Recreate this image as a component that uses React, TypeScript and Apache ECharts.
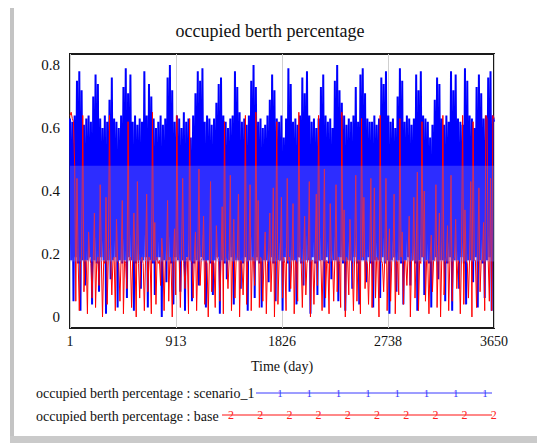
import React, { useEffect, useRef } from "react";
import * as echarts from "echarts";

const title = "occupied berth percentage";
const xName = "Time (day)";
const xTickLabels = [1, 913, 1826, 2738, 3650];
const yTickValues = [0, 0.2, 0.4, 0.6, 0.8];
const firstDay = 1;
const lastDay = 3650;
const legendNames = [
  "occupied berth percentage : scenario_1",
  "occupied berth percentage : base",
];

// occupied berth percentage : scenario_1 (sampled about every 10 days)
const scenario1 = [
  0.63,0.18,0.62,0.05,0.64,0.19,0.75,0.17,0.78,0.02,0.72,0.18,0.61,0.1,0.63,0.18,0.64,0.19,0.62,0.04,
  0.7,0.18,0.77,0.17,0.74,0.08,0.63,0.19,0.6,0.18,0.64,0.01,0.62,0.18,0.69,0.12,0.76,0.18,0.63,0.19,
  0.62,0.03,0.6,0.18,0.64,0.17,0.73,0.18,0.79,0.06,0.71,0.19,0.77,0.18,0.62,0.02,0.64,0.17,0.61,0.18,
  0.63,0.09,0.62,0.18,0.78,0.19,0.64,0.03,0.74,0.18,0.7,0.17,0.63,0.07,0.6,0.18,0.62,0.19,0.64,0.0,
  0.61,0.18,0.63,0.11,0.76,0.18,0.8,0.17,0.72,0.04,0.62,0.19,0.64,0.18,0.63,0.08,0.6,0.18,0.65,0.02,
  0.62,0.19,0.63,0.18,0.57,0.05,0.64,0.17,0.71,0.18,0.78,0.1,0.75,0.19,0.79,0.18,0.62,0.03,0.64,0.18,
  0.63,0.17,0.61,0.07,0.63,0.18,0.68,0.19,0.74,0.01,0.76,0.18,0.64,0.17,0.62,0.12,0.6,0.18,0.63,0.19,
  0.64,0.04,0.78,0.18,0.73,0.18,0.65,0.09,0.62,0.17,0.63,0.19,0.61,0.02,0.64,0.18,0.75,0.18,0.8,0.06,
  0.73,0.19,0.62,0.17,0.63,0.03,0.6,0.18,0.61,0.18,0.64,0.11,0.69,0.19,0.77,0.17,0.72,0.05,0.63,0.18,
  0.62,0.18,0.64,0.02,0.57,0.19,0.63,0.17,0.79,0.08,0.74,0.18,0.62,0.18,0.63,0.04,0.61,0.19,0.64,0.17,
  0.76,0.1,0.71,0.18,0.78,0.18,0.64,0.01,0.62,0.19,0.63,0.17,0.6,0.07,0.63,0.18,0.73,0.18,0.77,0.03,
  0.64,0.19,0.62,0.17,0.63,0.12,0.6,0.18,0.75,0.18,0.8,0.05,0.72,0.19,0.68,0.17,0.64,0.02,0.61,0.18,
  0.63,0.18,0.62,0.09,0.64,0.19,0.73,0.17,0.62,0.04,0.77,0.18,0.79,0.18,0.71,0.11,0.63,0.19,0.62,0.17,
  0.62,0.03,0.64,0.18,0.61,0.18,0.63,0.06,0.76,0.19,0.74,0.17,0.78,0.18,0.64,0.01,0.62,0.18,0.63,0.19,
  0.6,0.08,0.7,0.18,0.79,0.17,0.75,0.04,0.62,0.18,0.64,0.19,0.63,0.1,0.61,0.18,0.63,0.17,0.77,0.02,
  0.72,0.18,0.78,0.19,0.64,0.07,0.63,0.18,0.62,0.17,0.57,0.03,0.61,0.18,0.69,0.19,0.76,0.12,0.74,0.18,
  0.63,0.18,0.61,0.05,0.64,0.17,0.62,0.19,0.78,0.02,0.72,0.18,0.77,0.18,0.63,0.09,0.62,0.19,0.61,0.17,
  0.79,0.04,0.75,0.18,0.64,0.18,0.63,0.11,0.6,0.19,0.73,0.03,0.77,0.18,0.71,0.17,0.63,0.06,0.64,0.18,
  0.76,0.19,0.78,0.02,0.64,0.62,
];

// occupied berth percentage : base (sampled about every 10 days)
const base = [
  0.64,0.65,0.63,0.62,0.48,0.05,0.44,0.18,0.02,0.17,0.19,0.64,0.08,0.18,0.18,0.01,0.27,0.19,0.17,0.06,
  0.18,0.33,0.03,0.17,0.19,0.1,0.42,0.18,0.0,0.18,0.17,0.38,0.04,0.19,0.64,0.18,0.07,0.18,0.19,0.02,
  0.31,0.18,0.17,0.05,0.19,0.37,0.01,0.18,0.17,0.09,0.62,0.18,0.19,0.03,0.19,0.33,0.18,0.0,0.43,0.17,
  0.06,0.18,0.19,0.17,0.02,0.18,0.39,0.08,0.19,0.18,0.01,0.65,0.18,0.3,0.04,0.19,0.17,0.18,0.1,0.25,
  0.19,0.02,0.18,0.18,0.37,0.05,0.19,0.17,0.0,0.18,0.28,0.07,0.64,0.19,0.18,0.03,0.18,0.44,0.17,0.09,
  0.18,0.19,0.01,0.63,0.18,0.17,0.06,0.19,0.27,0.02,0.18,0.47,0.1,0.18,0.19,0.32,0.04,0.18,0.17,0.0,
  0.19,0.43,0.08,0.18,0.17,0.03,0.29,0.19,0.18,0.05,0.18,0.35,0.01,0.62,0.19,0.18,0.09,0.18,0.45,0.02,
  0.18,0.31,0.06,0.18,0.19,0.39,0.0,0.18,0.17,0.07,0.19,0.64,0.04,0.18,0.18,0.42,0.02,0.19,0.18,0.1,
  0.65,0.18,0.37,0.03,0.19,0.18,0.05,0.18,0.27,0.01,0.17,0.19,0.33,0.08,0.18,0.41,0.0,0.19,0.62,0.04,
  0.18,0.18,0.38,0.06,0.19,0.17,0.02,0.44,0.18,0.19,0.09,0.19,0.36,0.01,0.18,0.17,0.05,0.65,0.19,0.18,
  0.03,0.18,0.32,0.07,0.17,0.19,0.43,0.0,0.18,0.18,0.04,0.19,0.39,0.1,0.64,0.18,0.18,0.02,0.19,0.47,
  0.06,0.18,0.17,0.01,0.36,0.19,0.18,0.05,0.18,0.42,0.08,0.19,0.17,0.03,0.65,0.18,0.34,0.0,0.19,0.18,
  0.07,0.31,0.18,0.17,0.02,0.19,0.45,0.05,0.18,0.18,0.01,0.63,0.19,0.38,0.09,0.18,0.17,0.04,0.19,0.44,
  0.03,0.18,0.41,0.06,0.19,0.18,0.0,0.64,0.18,0.17,0.08,0.19,0.44,0.02,0.18,0.28,0.05,0.18,0.19,0.39,
  0.01,0.18,0.17,0.07,0.63,0.19,0.27,0.04,0.18,0.18,0.1,0.19,0.32,0.0,0.18,0.18,0.38,0.06,0.19,0.46,
  0.02,0.18,0.17,0.62,0.19,0.4,0.05,0.18,0.18,0.01,0.19,0.26,0.08,0.18,0.18,0.42,0.03,0.19,0.33,0.0,
  0.18,0.64,0.07,0.17,0.19,0.29,0.02,0.18,0.45,0.05,0.18,0.19,0.31,0.09,0.18,0.17,0.01,0.19,0.64,0.04,
  0.34,0.18,0.17,0.06,0.19,0.43,0.0,0.62,0.18,0.18,0.03,0.19,0.41,0.08,0.18,0.18,0.3,0.02,0.64,0.63,
  0.18,0.05,0.44,0.02,0.64,0.63,
];

// lighter-shaded part of the occupied band
const bandLow = 0.176;
const bandHigh = 0.48;

const FONT = "'Liberation Serif', 'Times New Roman', serif";

function toPairs(values: number[]) {
  const n = values.length;
  return values.map((v, i) => [(i * (lastDay - firstDay)) / (n - 1), v]);
}

export default function App() {
  const ref = useRef<HTMLDivElement>(null);

  useEffect(() => {
    if (!ref.current) return;
    const chart = echarts.init(ref.current, null, { renderer: "svg" });

    const span = lastDay - firstDay;
    const blueMarks = [0, 1, 2, 3, 4, 5, 6, 7];
    const redMarks = [0, 1, 2, 3, 4, 5, 6, 7, 8, 9];

    chart.setOption({
      animation: false,
      backgroundColor: "#ffffff",
      title: {
        text: title,
        left: 265,
        top: 17,
        textAlign: "center",
        textStyle: {
          fontFamily: FONT,
          fontSize: 18,
          fontWeight: "normal",
          color: "#111",
        },
      },
      grid: {
        left: 70,
        right: 43,
        top: 54,
        bottom: 115,
        show: true,
        borderColor: "#1a1a1a",
        borderWidth: 2,
        backgroundColor: "transparent",
      },
      xAxis: {
        type: "value",
        min: 0,
        max: span,
        interval: span / 4,
        name: xName,
        nameLocation: "middle",
        nameGap: 31,
        nameTextStyle: { fontFamily: FONT, fontSize: 14, color: "#111" },
        axisLine: { show: false },
        axisTick: { show: false },
        splitLine: { show: true, lineStyle: { color: "#cfcfcf", width: 1 } },
        axisLabel: {
          fontFamily: FONT,
          fontSize: 14,
          color: "#111",
          margin: 6,
          formatter: (v: number) => {
            const idx = Math.round((v / span) * 4);
            return String(xTickLabels[idx] ?? "");
          },
        },
      },
      yAxis: {
        type: "value",
        min: -0.035,
        max: 0.835,
        axisLine: { show: false },
        axisTick: { show: false },
        splitLine: { show: false },
        axisLabel: {
          customValues: yTickValues,
          fontFamily: FONT,
          fontSize: 15,
          color: "#111",
          margin: 10,
          formatter: (v: number) => (Math.abs(v) < 1e-9 ? "0" : v.toFixed(1)),
        },
      },
      series: [
        {
          name: legendNames[0],
          type: "line",
          data: toPairs(scenario1),
          showSymbol: false,
          symbol: "none",
          z: 2,
          lineStyle: { color: "#0000ff", width: 2 },
          emphasis: { disabled: true },
        },
        {
          name: legendNames[1],
          type: "line",
          data: toPairs(base),
          showSymbol: false,
          symbol: "none",
          z: 3,
          lineStyle: { color: "#ff0000", width: 1 },
          emphasis: { disabled: true },
          markArea: {
            silent: true,
            z: 10,
            itemStyle: { color: "rgba(128,128,255,0.35)" },
            data: [[{ yAxis: bandLow }, { yAxis: bandHigh }]],
          },
        },
      ],
      graphic: [
        { type: "rect", shape: { x: 10, y: 8, width: 4, height: 435 }, style: { fill: "#c4c4c4" }, silent: true },
        { type: "rect", shape: { x: 10, y: 436, width: 527, height: 7 }, style: { fill: "#cacaca" }, silent: true },
        {
          type: "text",
          x: 36,
          y: 393,
          style: { text: legendNames[0], font: `14px ${FONT}`, fill: "#111", textVerticalAlign: "middle" },
        },
        {
          type: "line",
          shape: { x1: 256, y1: 393, x2: 492, y2: 393 },
          style: { stroke: "#3a3aff", lineWidth: 1 },
        },
        ...blueMarks.map((k) => ({
          type: "text",
          x: 280 + k * 29.3,
          y: 393,
          style: { text: "1", font: `11px ${FONT}`, fill: "#3a3aff", textAlign: "center", textVerticalAlign: "middle" },
        })),
        {
          type: "text",
          x: 36,
          y: 416,
          style: { text: legendNames[1], font: `14px ${FONT}`, fill: "#111", textVerticalAlign: "middle" },
        },
        {
          type: "line",
          shape: { x1: 222, y1: 415, x2: 492, y2: 415 },
          style: { stroke: "#ff6060", lineWidth: 1.5 },
        },
        ...redMarks.map((k) => ({
          type: "text",
          x: 231 + k * 29.2,
          y: 415,
          style: { text: "2", font: `12px ${FONT}`, fill: "#ff2020", textAlign: "center", textVerticalAlign: "middle" },
        })),
      ],
    });

    return () => chart.dispose();
  }, []);

  return (
    <div
      ref={ref}
      style={{ position: "fixed", left: 0, top: 0, width: 537, height: 443 }}
    />
  );
}
